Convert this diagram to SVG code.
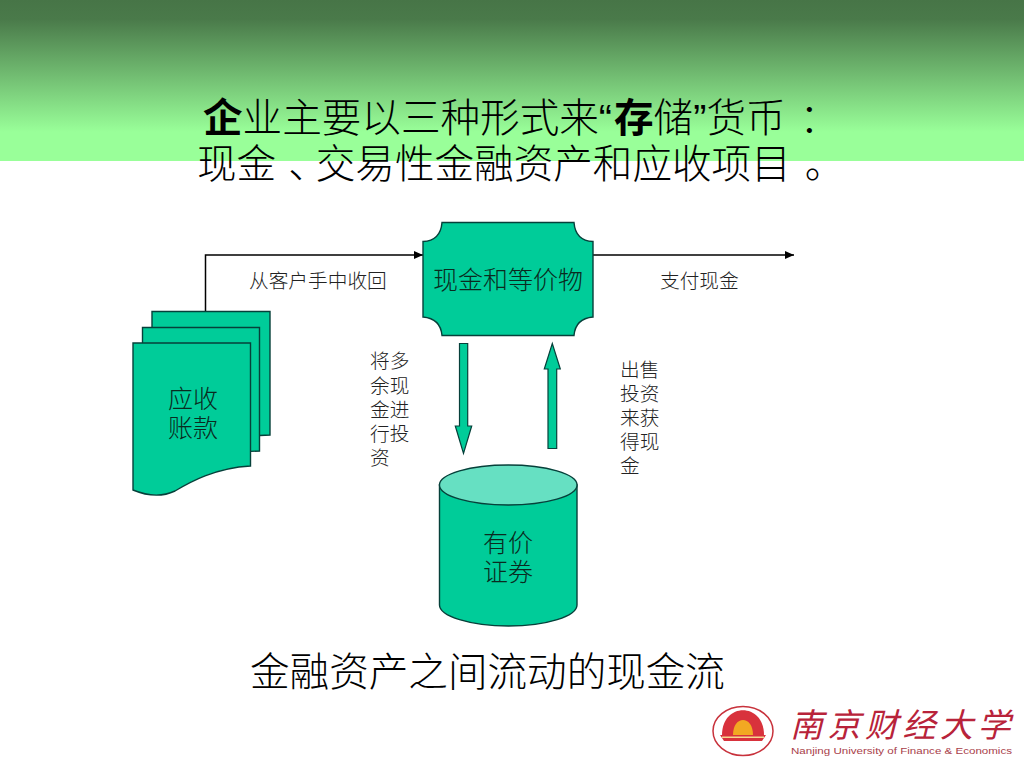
<svg xmlns="http://www.w3.org/2000/svg" width="1024" height="768" viewBox="0 0 1024 768">
<style>
text{font-family:"Noto Sans CJK SC",sans-serif;fill:#000;font-weight:300}
.n{fill:#0a2a20;font-size:25px;text-anchor:middle}
.t{font-size:39.600px}
.b{font-weight:700}
.q{font-family:"Liberation Sans",sans-serif}
.l{font-size:19.700px;fill:#222}
.s{fill:#00cc99;stroke:#06403a;stroke-width:1.400}
.c{fill:none;stroke:#000;stroke-width:1.500}
</style>
<defs>
<linearGradient id="g" x1="0" y1="0" x2="0" y2="1"><stop offset="0" stop-color="#477547"/><stop offset=".12" stop-color="#4a7a4a"/><stop offset=".82" stop-color="#99ff99"/><stop offset="1" stop-color="#99ff99"/></linearGradient>
<marker id="a" markerWidth="9" markerHeight="8" refX="9" refY="4" orient="auto" markerUnits="userSpaceOnUse"><path d="M0 0L9 4L0 8Z" fill="#000"/></marker>
</defs>
<rect width="1024" height="768" fill="#fff"/>
<rect width="1024" height="161" fill="url(#g)"/>
<g id="title">
<text class="t"><tspan x="203" y="132"><tspan class="b">企</tspan>业主要以三种形式来<tspan class="q">“</tspan><tspan class="b" dx="2">存</tspan>储<tspan class="q">”</tspan>货币<tspan dx="14">：</tspan></tspan><tspan x="197" y="178">现金<tspan dx="12">、</tspan><tspan dx="-12">交</tspan>易性金融资产和应收项目<tspan dx="14">。</tspan></tspan></text>
</g>
<g id="connectors">
<path class="c" d="M205.500 311V255H423" marker-end="url(#a)"/>
<path class="c" d="M593 255H794" marker-end="url(#a)"/>
<path class="s" d="M459.500 343.500h8.200v82.500h4L463.500 453.500L455.300 426h4.200z" style="stroke-width:1.200"/>
<path class="s" d="M548 448.500h8.700v-79.500h3.600L552.300 343.500L544.300 369h3.700z" style="stroke-width:1.200"/>
</g>
<g id="receivables">
<path class="s" d="M152 311.500H270V435L152 440Z"/>
<path class="s" d="M142.500 327.500H259.500V451L142.500 456Z"/>
<path class="s" d="M133 343H250.500V466C215 468 190 482 175 491C160 498 145 495 133 490Z"/>
<text class="n"><tspan x="193" y="408">应收</tspan><tspan x="193" y="437">账款</tspan></text>
</g>
<g id="cash">
<path class="s" d="M442 222.500H574C575 235 581 241 593 241.500V317C581 318 575 324 574 335.500H442C441 324 435 318 423 317V241.500C435 241 441 235 442 222.500Z"/>
<text class="n" x="508" y="289">现金和等价物</text>
</g>
<g id="securities">
<path class="s" d="M439.500 485V605C439.500 616 470 626 508.500 626S577 616 577 605V485Z"/>
<ellipse cx="508.250" cy="485" rx="68.800" ry="20" fill="#66e0c2" stroke="#06403a" stroke-width="1.400"/>
<text class="n"><tspan x="508" y="552">有价</tspan><tspan x="508" y="581">证券</tspan></text>
</g>
<g id="labels">
<text class="l" x="249" y="288">从客户手中收回</text>
<text class="l" x="660" y="288">支付现金</text>
<text class="l"><tspan x="370" y="368">将多</tspan><tspan x="370" y="393">余现</tspan><tspan x="370" y="417">金进</tspan><tspan x="370" y="441">行投</tspan><tspan x="370" y="465">资</tspan></text>
<text class="l"><tspan x="620" y="377">出售</tspan><tspan x="620" y="401">投资</tspan><tspan x="620" y="425">来获</tspan><tspan x="620" y="449">得现</tspan><tspan x="620" y="473">金</tspan></text>
<text class="t" x="250" y="686">金融资产之间流动的现金流</text>
</g>
<g id="logo">
<ellipse cx="743" cy="731" rx="30" ry="24.500" fill="#fff" stroke="#c8323c" stroke-width="1.500"/>
<path d="M722 735C722 702 764 702 764 735Z" fill="#d8323c"/>
<path d="M733 735C733 715 753 715 753 735Z" fill="#f2a822"/>
<path d="M720 735H766L762 741H724Z" fill="#d8323c"/>
<rect x="722" y="736.500" width="42" height="1.500" fill="#f5d890"/>
<text x="790" y="737" font-size="33" letter-spacing="4.500" style="font-weight:400;fill:#b8233a;font-style:italic">南京财经大学</text>
<text x="791" y="754" font-size="9.500" textLength="221" lengthAdjust="spacingAndGlyphs" style="font-family:'Liberation Sans',sans-serif;fill:#a8404a">Nanjing University of Finance &amp; Economics</text>
</g>
</svg>
